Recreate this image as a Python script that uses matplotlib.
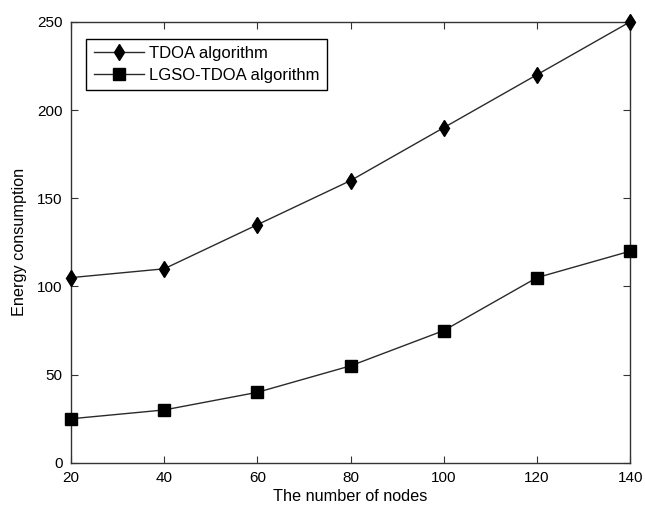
import matplotlib.pyplot as plt

nodes = [20, 40, 60, 80, 100, 120, 140]
tdoa = [105, 110, 135, 160, 190, 220, 250]
lgso_tdoa = [25, 30, 40, 55, 75, 105, 120]

plt.rcParams['font.family'] = ['Liberation Sans', 'DejaVu Sans']
plt.rcParams['font.size'] = 11

fig = plt.figure(figsize=(6.45, 5.07), dpi=100)
ax = fig.add_axes([0.110, 0.087, 0.867, 0.870])

ax.plot(nodes, tdoa, color='#2a2a2a', linewidth=1, marker='d', markersize=8.5,
        markerfacecolor='black', markeredgecolor='black', label='TDOA algorithm',
        clip_on=False, zorder=3)
ax.plot(nodes, lgso_tdoa, color='#2a2a2a', linewidth=1, marker='s', markersize=8,
        markerfacecolor='black', markeredgecolor='black', label='LGSO-TDOA algorithm',
        clip_on=False, zorder=3)

ax.set_xlim(20, 140)
ax.set_ylim(0, 250)
ax.set_xticks(nodes)
ax.set_yticks([0, 50, 100, 150, 200, 250])
ax.tick_params(direction='in', length=5, top=True, right=True, labelsize=11, pad=6,
               color='#333333')
for s in ax.spines.values():
    s.set_linewidth(1)
    s.set_color('#333333')

ax.set_xlabel('The number of nodes', fontsize=11.7, labelpad=3)
ax.set_ylabel('Energy consumption', fontsize=11.7, labelpad=7)

leg = ax.legend(loc='upper left', bbox_to_anchor=(0.027, 0.962), borderaxespad=0,
                fancybox=False, edgecolor='black', framealpha=1, fontsize=12,
                handlelength=3.0, borderpad=0.45, labelspacing=0.4, handletextpad=0.35)
leg.get_frame().set_linewidth(1)

fig.savefig('out.png', dpi=100)
